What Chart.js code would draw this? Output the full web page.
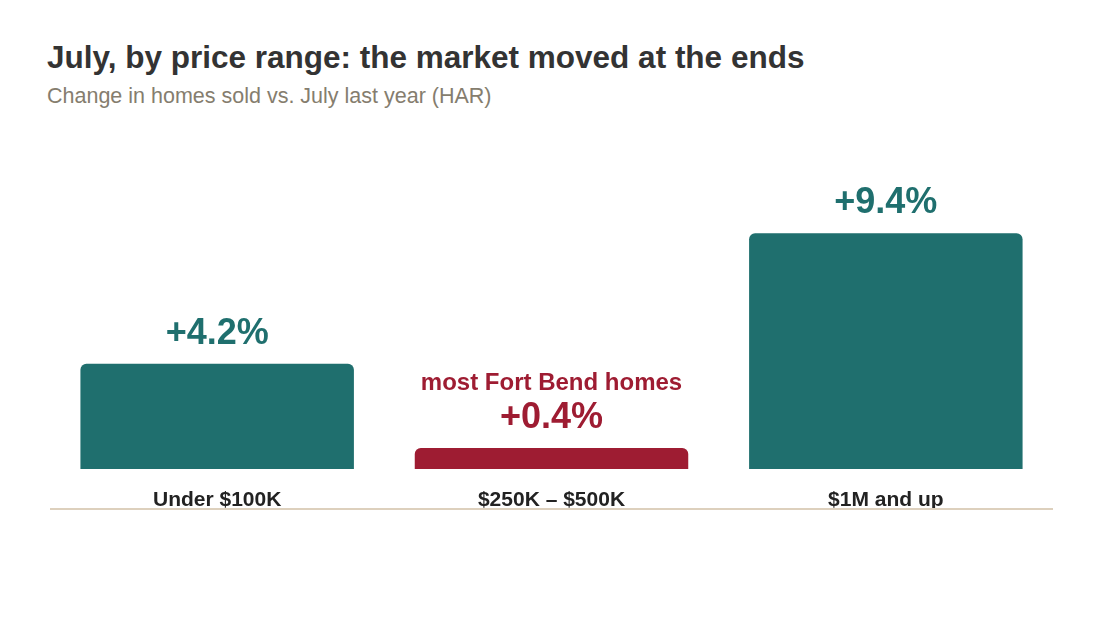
<!DOCTYPE html>
<html>
<head>
<meta charset="utf-8">
<script src="https://cdn.jsdelivr.net/npm/chart.js@4"></script>
<style>
  body { margin: 0; background: #fff; font-family: Helvetica, Arial, "Liberation Sans", sans-serif; }
  #wrap { position: relative; width: 1100px; height: 633px; }
  h1 { position: absolute; left: 47px; top: 39px; margin: 0; font-size: 31.5px; font-weight: bold; color: #333; }
  p { position: absolute; left: 47px; top: 84px; margin: 0; font-size: 21.5px; color: #857d6e; }
  canvas { position: absolute; left: 0; top: 0; }
</style>
</head>
<body>
<div id="wrap">
  <h1>July, by price range: the market moved at the ends</h1>
  <p>Change in homes sold vs. July last year (HAR)</p>
  <canvas id="myChart" width="1100" height="633"></canvas>
</div>
<script>
const categories = ['Under $100K', '$250K – $500K', '$1M and up'];
const values = [4.2, 0.4, 9.4];
const valueLabels = ['+4.2%', '+0.4%', '+9.4%'];
const notes = ['', 'most Fort Bend homes', ''];
const teal = '#1f6f6e';
const red = '#9e1c32';
const barColors = [teal, red, teal];
const fontFamily = 'Helvetica, Arial, "Liberation Sans", sans-serif';

const labelPlugin = {
    id: 'labels',
    afterDatasetsDraw(chart) {
        const ctx = chart.ctx;
        const meta = chart.getDatasetMeta(0);
        ctx.save();
        ctx.textAlign = 'center';
        ctx.textBaseline = 'middle';
        meta.data.forEach((bar, i) => {
            ctx.fillStyle = barColors[i];
            ctx.font = 'bold 36px ' + fontFamily;
            ctx.fillText(valueLabels[i], bar.x, bar.y - 30);
            if (notes[i]) {
                ctx.font = 'bold 24px ' + fontFamily;
                ctx.fillText(notes[i], bar.x, bar.y - 65);
            }
        });
        // baseline rule under the labels
        const x = chart.scales.x;
        ctx.strokeStyle = '#ddd0bd';
        ctx.lineWidth = 2;
        ctx.beginPath();
        ctx.moveTo(x.left, x.top + 40);
        ctx.lineTo(x.right, x.top + 40);
        ctx.stroke();
        ctx.restore();
    }
};

new Chart(document.getElementById('myChart'), {
    type: 'bar',
    data: {
        labels: categories,
        datasets: [{
            data: values,
            backgroundColor: barColors,
            borderRadius: { topLeft: 6, topRight: 6 },
            borderSkipped: 'bottom',
            barPercentage: 0.818,
            categoryPercentage: 1,
            minBarLength: 21
        }]
    },
    options: {
        responsive: false,
        animation: false,
        layout: { padding: { left: 50, right: 47, top: 173, bottom: 114 } },
        plugins: { legend: { display: false }, tooltip: { enabled: false } },
        scales: {
            y: { display: false, min: 0, max: 11.8 },
            x: {
                grid: { display: false },
                border: { display: false },
                afterFit(scale) { scale.height = 50; },
                ticks: {
                    padding: 11,
                    color: '#222',
                    font: { size: 21, weight: 'bold', family: fontFamily }
                }
            }
        }
    },
    plugins: [labelPlugin]
});
</script>
</body>
</html>
